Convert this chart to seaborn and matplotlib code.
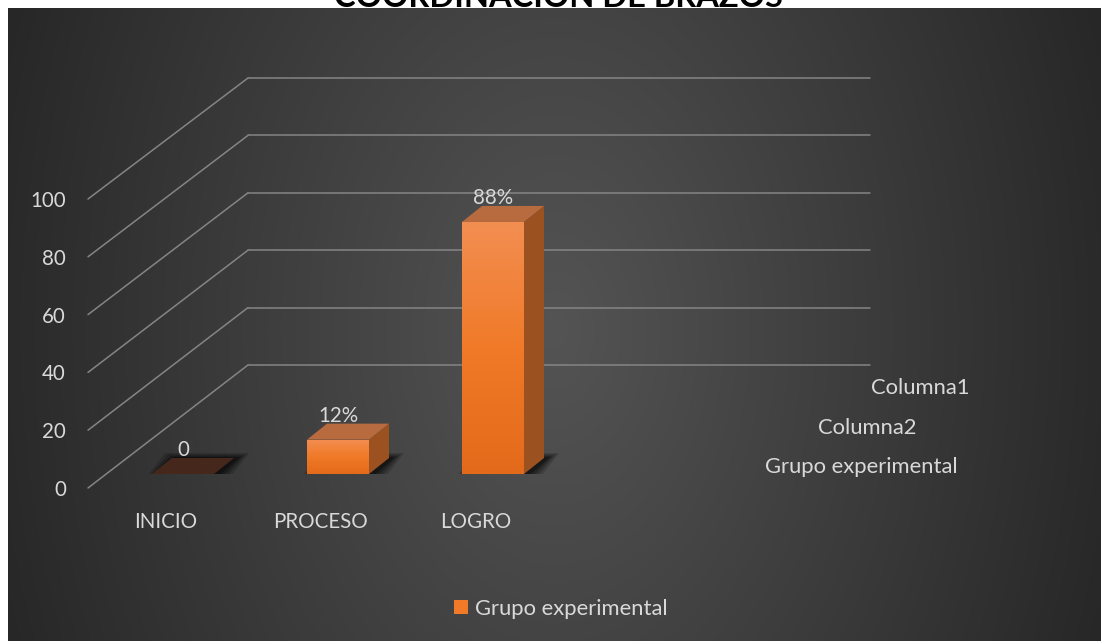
import numpy as np
import pandas as pd
import matplotlib
matplotlib.use("Agg")
import matplotlib.pyplot as plt
import seaborn as sns
from matplotlib.patches import Polygon, Patch, ConnectionPatch
from matplotlib.colors import LinearSegmentedColormap, to_rgb

# ---------------- data ----------------
TITLE = "COORDINACIÓN DE BRAZOS"
categories = ["INICIO", "PROCESO", "LOGRO"]
values = [0, 12, 88]
value_labels = ["0", "12%", "88%"]
series_name = "Grupo experimental"
depth_series = ["Columna1", "Columna2", "Grupo experimental"]
y_ticks = [0, 20, 40, 60, 80, 100]

# ---------------- style ----------------
W, H, DPI = 1101, 641, 100
TXT = "#D9D9D9"
GRID = "#858585"
FRONT = "#F07A28"
SIDE = "#9B5120"
TOP = "#B86B3F"
TOP_ZERO = "#45271B"
FS = 14.8
FS_LOW = 15.8

sns.set_theme(style="white")
plt.rcParams['font.family'] = ['Lato', 'DejaVu Sans']

fig = plt.figure(figsize=(W / DPI, H / DPI), dpi=DPI, facecolor="white")


def px_rect(left, top, right, bottom):
    return [left / W, 1 - bottom / H, (right - left) / W, (bottom - top) / H]


# background with radial gradient
ax_bg = fig.add_axes(px_rect(8, 8, W, H), zorder=-5)
ax_bg.set_axis_off()
ny, nx = 320, 560
xx, yy = np.meshgrid(np.linspace(8, W, nx), np.linspace(8, H, ny))
r = np.clip(np.sqrt(((xx - 555) / 600) ** 2 + ((yy - 330) / 900) ** 2), 0, 1)
c0 = np.array(to_rgb("#545454"))
c1 = np.array(to_rgb("#262626"))
img = c0[None, None, :] * (1 - r[..., None]) + c1[None, None, :] * r[..., None]
ax_bg.imshow(img, extent=[0, 1, 0, 1], aspect="auto", origin="upper",
             transform=ax_bg.transAxes)
ax_bg.set_xlim(0, 1)
ax_bg.set_ylim(0, 1)

# back wall
ax_wall = fig.add_axes(px_rect(248, 78, 870, 365), zorder=0)
ax_wall.set_xlim(0, 1)
ax_wall.set_ylim(0, 100)
ax_wall.set_axis_off()
for v in y_ticks:
    ax_wall.axhline(v, color=GRID, lw=1.1, clip_on=False)

# front plane (axis labels)
ax_front = fig.add_axes(px_rect(88, 199, 88 + 775, 488), zorder=1)
ax_front.patch.set_alpha(0)
for s in ax_front.spines.values():
    s.set_visible(False)
ax_front.set_xlim(-0.5, 4.5)
ax_front.set_ylim(0, 100)
ax_front.set_xticks(range(len(categories)))
ax_front.set_xticklabels(categories)
ax_front.set_yticks(y_ticks)
ax_front.set_yticklabels([str(v) for v in y_ticks])
ax_front.tick_params(axis="both", length=0, labelsize=FS, colors=TXT)
ax_front.tick_params(axis="x", pad=17)
ax_front.tick_params(axis="y", pad=16)
ax_front.grid(False)

# diagonals from front plane to back wall
for v in y_ticks:
    con = ConnectionPatch(xyA=(0, v), coordsA=ax_front.get_yaxis_transform(),
                          xyB=(0, v), coordsB=ax_wall.get_yaxis_transform(),
                          color=GRID, lw=1.1, zorder=0.5)
    fig.add_artist(con)

# bar plane
ax_bar = fig.add_axes(px_rect(105.5, 474 - 286.4, 105.5 + 775, 474), zorder=2)
df = pd.DataFrame({"categoria": categories, "valor": values})
sns.barplot(data=df, x="categoria", y="valor", ax=ax_bar, color=FRONT,
            width=0.4, saturation=1, linewidth=0, errorbar=None)
ax_bar.set_xlim(-0.5, 4.5)
ax_bar.set_ylim(0, 100)
ax_bar.set_axis_off()

T = ax_bar.transData
ppx = (T.transform((1, 0)) - T.transform((0, 0)))[0]
ppy = (T.transform((0, 1)) - T.transform((0, 0)))[1]
DX, DY = 20 / ppx, 16 / ppy

grad_cmap = LinearSegmentedColormap.from_list("g", ["#E36A1A", "#F07A28", "#F38E52"])
grad = np.linspace(0, 1, 256)[:, None]

bars = list(ax_bar.patches)
for p, lbl in zip(bars, value_labels):
    x0, w, h = p.get_x(), p.get_width(), p.get_height()
    x1 = x0 + w
    p.set_zorder(3)
    # soft shadow
    for e, a in [(11, 0.16), (8, 0.2), (5, 0.26), (2, 0.35)]:
        ex, ey = e / ppx, (e * 0.45) / ppy
        sh = 4 / ppx
        pts = [(x0 - ex + sh, -ey), (x1 + ex + sh, -ey),
               (x1 + DX + ex + sh, DY + ey), (x0 + DX - ex + sh, DY + ey)]
        ax_bar.add_patch(Polygon(pts, closed=True, facecolor="black",
                                 edgecolor="none", alpha=a, zorder=1))
    if h > 0:
        im = ax_bar.imshow(grad, extent=[x0, x1, 0, h], origin="lower",
                           aspect="auto", cmap=grad_cmap, zorder=3.1)
        im.set_clip_path(p)
        side = [(x1, 0), (x1 + DX, DY), (x1 + DX, h + DY), (x1, h)]
        ax_bar.add_patch(Polygon(side, closed=True, facecolor=SIDE,
                                 edgecolor="none", zorder=3))
        topc = TOP
    else:
        topc = TOP_ZERO
    top = [(x0, h), (x1, h), (x1 + DX, h + DY), (x0 + DX, h + DY)]
    ax_bar.add_patch(Polygon(top, closed=True, facecolor=topc,
                             edgecolor="none", zorder=3.2))
    ax_bar.annotate(lbl, xy=(x0 + w / 2, h), xytext=(0, 24 * 72 / DPI),
                    textcoords="offset points", ha="center", va="center",
                    color=TXT, fontsize=FS, zorder=5)

ax_bar.set_xlim(-0.5, 4.5)
ax_bar.set_ylim(0, 100)

# depth (series) axis labels
for name, (px_x, px_y) in zip(depth_series, [(871, 388), (818, 428), (765, 467)]):
    fig.text(px_x / W, 1 - px_y / H, name, ha="left", va="center",
             color=TXT, fontsize=FS_LOW)

# legend
fig.legend(handles=[Patch(facecolor=FRONT, edgecolor="none", label=series_name)],
           loc="center", bbox_to_anchor=(561 / W, 1 - 609 / H), frameon=False,
           fontsize=FS_LOW, labelcolor=TXT, handlelength=0.62,
           handleheight=0.62, handletextpad=0.35)

# title (cut off at top, as in the reference)
fig.text(558 / W, 1 - 7 / H, TITLE, ha="center", va="baseline", fontsize=23.5,
         fontweight="bold", color="black", zorder=10)

fig.savefig("out.png", dpi=DPI, facecolor="white")
